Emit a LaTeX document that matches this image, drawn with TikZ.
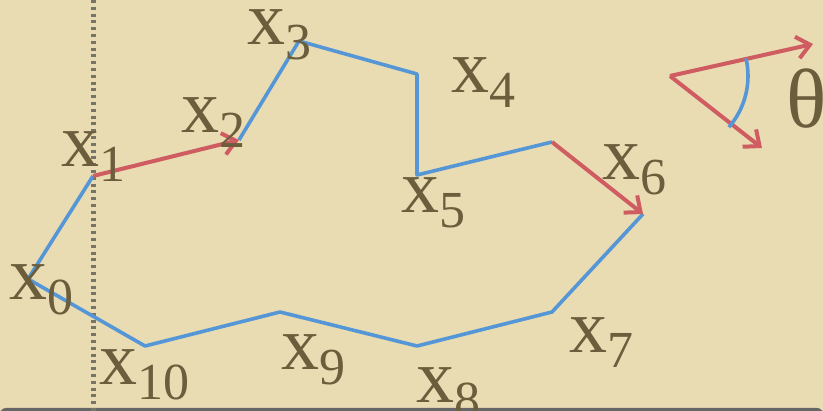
\documentclass[tikz,border=0pt]{standalone}
\usepackage{fontspec}
\setmainfont{Liberation Serif}
\usetikzlibrary{arrows.meta}
\definecolor{parch}{RGB}{233,220,178}
\definecolor{ink}{RGB}{108,94,60}
\definecolor{walkblue}{RGB}{84,150,214}
\definecolor{stepred}{RGB}{206,92,96}
\definecolor{rulegray}{RGB}{120,116,104}
\newcommand{\xlab}[1]{x\raisebox{-15pt}{\fontsize{52}{52}\selectfont #1}}

\begin{document}
\begin{tikzpicture}[x=1pt, y=-1pt, every node/.style={text=ink, inner sep=0pt, anchor=base west, font=\fontsize{76}{76}\selectfont}, >={Straight Barb[length=13pt,width=22pt]}]
	\useasboundingbox (0,0) rectangle (823,411);
	\fill[parch] (0,0) rectangle (823,411);
	\fill[black!60, rounded corners=6pt] (0,408) rectangle (823,416);
	\draw[rulegray, line width=5pt, dash pattern=on 3pt off 3.8pt] (93,0) -- (93,411);
	\coordinate (p0) at (28,279);
	\coordinate (p1) at (93,176);
	\coordinate (p2) at (239,140);
	\coordinate (p3) at (299,41);
	\coordinate (p4) at (417,74);
	\coordinate (p5) at (417,175);
	\coordinate (q) at (552,142);
	\coordinate (p6) at (643,214);
	\coordinate (p7) at (552,312);
	\coordinate (p8) at (417,346);
	\coordinate (p9) at (280,312);
	\coordinate (p10) at (145,346);
	\draw[walkblue, line width=3.6pt, line join=round] (p0) -- (p1) (p2) -- (p3) -- (p4) -- (p5) -- (q) (p6) -- (p7) -- (p8) -- (p9) -- (p10) -- (p0);
	\draw[stepred, line width=4pt, ->] (p1) -- (p2);
	\draw[stepred, line width=4pt, ->] (q) -- (p6);
	\coordinate (v) at (670,76);
	\coordinate (ta) at (813,44);
	\coordinate (tb) at (762,148);
	\draw[stepred, line width=4pt, ->] (v) -- (ta);
	\draw[stepred, line width=4pt, ->] (v) -- (tb);
	\draw[walkblue, line width=3.6pt] (v) ++(-13:78) arc[start angle=-13, end angle=41, radius=78];
	\node (l0) at (9,300) {\xlab{0}};
	\node (l1) at (61,167) {\xlab{1}};
	\node (l2) at (181,133) {\xlab{2}};
	\node (l3) at (247,45) {\xlab{3}};
	\node (l4) at (451,93) {\xlab{4}};
	\node (l5) at (401,213) {\xlab{5}};
	\node (l6) at (602,180) {\xlab{6}};
	\node (l7) at (569,353) {\xlab{7}};
	\node (l8) at (416,403) {\xlab{8}};
	\node (l9) at (281,370) {\xlab{9}};
	\node (l10) at (99,385) {\xlab{10}};
	\node[font=\fontsize{84}{84}\selectfont] (th) at (786,128) {θ};
\end{tikzpicture}
\end{document}
